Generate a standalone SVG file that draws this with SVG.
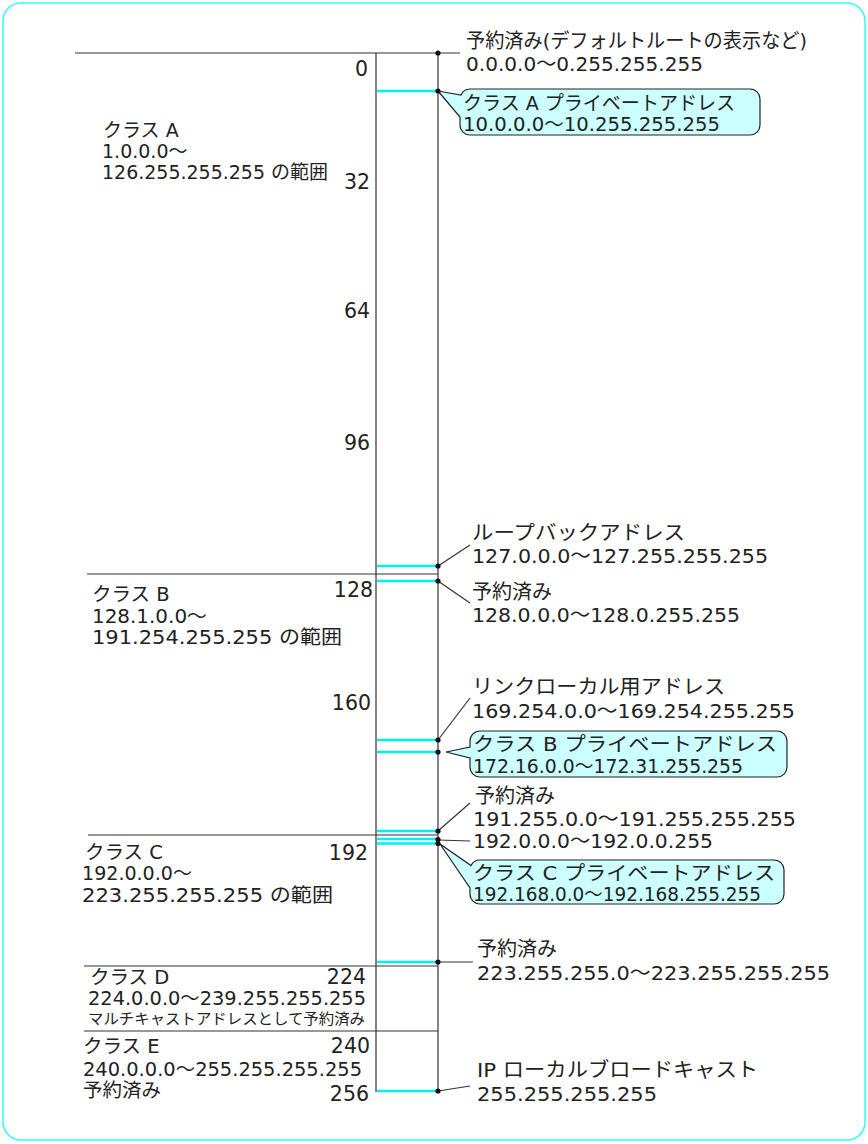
<svg xmlns="http://www.w3.org/2000/svg" width="868" height="1144" viewBox="0 0 868 1144">
<style>
  text { font-family: "DejaVu Sans", "Noto Sans CJK JP", sans-serif; fill: #222; }
  .r { font-size: 20px; }
  .c { font-size: 19.5px; }
  .l { font-size: 19.5px; }
  .la { font-size: 19px; }
  .de { font-size: 19.5px; }
  .sm { font-size: 15px; }
  .num { font-size: 20.5px; text-anchor: end; }
  .ln { stroke: #333; stroke-width: 1.2; fill: none; }
  .cy { stroke: #00f0f0; stroke-width: 2.6; fill: none; }
  .call { fill: #ccffff; stroke: #222; stroke-width: 1.2; }
  .dot { fill: #111; }
</style>

<rect id="frame" x="3" y="3" width="862" height="1137" rx="18" ry="18" fill="#fff" stroke="#3ff" stroke-width="1.6"/>

<g id="axis">
  <line class="ln" x1="75" y1="53" x2="460" y2="53"/>
  <line class="ln" x1="376" y1="53" x2="376" y2="1092"/>
  <line class="ln" x1="438" y1="53" x2="438" y2="1091"/>
  <line class="ln" x1="87" y1="574" x2="438" y2="574"/>
  <line class="ln" x1="88" y1="835" x2="438" y2="835"/>
  <line class="ln" x1="84" y1="966" x2="438" y2="966"/>
  <line class="ln" x1="84" y1="1031" x2="438" y2="1031"/>
</g>

<g id="ranges">
  <line class="cy" x1="377" y1="91" x2="438" y2="91"/>
  <line class="cy" x1="377" y1="566" x2="438" y2="566"/>
  <line class="cy" x1="377" y1="581" x2="438" y2="581"/>
  <line class="cy" x1="377" y1="740" x2="438" y2="740"/>
  <line class="cy" x1="377" y1="752" x2="438" y2="752"/>
  <line class="cy" x1="377" y1="831" x2="438" y2="831"/>
  <line class="cy" x1="377" y1="839" x2="438" y2="839"/>
  <line class="cy" x1="377" y1="843.5" x2="438" y2="843.5"/>
  <line class="cy" x1="377" y1="962" x2="438" y2="962"/>
  <line class="cy" x1="377" y1="1091" x2="438" y2="1091"/>
</g>

<g id="scale">
  <text class="num" x="368" y="76">0</text>
  <text class="num" x="370" y="189">32</text>
  <text class="num" x="370" y="318">64</text>
  <text class="num" x="370" y="450">96</text>
  <text class="num" x="373" y="597">128</text>
  <text class="num" x="371" y="710">160</text>
  <text class="num" x="368" y="860">192</text>
  <text class="num" x="366" y="984">224</text>
  <text class="num" x="370" y="1053">240</text>
  <text class="num" x="369" y="1101">256</text>
</g>

<g id="classA">
  <text class="la" x="103" y="137">クラス A</text>
  <text class="la" x="102" y="158">1.0.0.0〜</text>
  <text class="la" x="102" y="179" textLength="226" lengthAdjust="spacingAndGlyphs">126.255.255.255 の範囲</text>
</g>
<g id="classB">
  <text class="l" x="92" y="601">クラス B</text>
  <text class="l" x="92" y="622.5" textLength="115" lengthAdjust="spacingAndGlyphs">128.1.0.0〜</text>
  <text class="l" x="92" y="644" textLength="250" lengthAdjust="spacingAndGlyphs">191.254.255.255 の範囲</text>
</g>
<g id="classC">
  <text class="l" x="85" y="858.5">クラス C</text>
  <text class="l" x="82" y="880" textLength="110" lengthAdjust="spacingAndGlyphs">192.0.0.0〜</text>
  <text class="l" x="82" y="901.5" textLength="251" lengthAdjust="spacingAndGlyphs">223.255.255.255 の範囲</text>
</g>
<g id="classD">
  <text class="de" x="90" y="984">クラス D</text>
  <text class="de" x="88" y="1005" textLength="278" lengthAdjust="spacingAndGlyphs">224.0.0.0〜239.255.255.255</text>
  <text class="sm" x="88" y="1024" textLength="277" lengthAdjust="spacingAndGlyphs">マルチキャストアドレスとして予約済み</text>
</g>
<g id="classE">
  <text class="de" x="83" y="1053">クラス E</text>
  <text class="de" x="83" y="1076" textLength="279" lengthAdjust="spacingAndGlyphs">240.0.0.0〜255.255.255.255</text>
  <text class="de" x="83" y="1097">予約済み</text>
</g>

<g id="connectors">
  <line class="ln" x1="438" y1="566" x2="470" y2="545"/>
  <line class="ln" x1="438" y1="581" x2="470" y2="603"/>
  <line class="ln" x1="438" y1="740" x2="470" y2="698"/>
  <line class="ln" x1="438" y1="831" x2="470" y2="803"/>
  <line class="ln" x1="438" y1="840" x2="470" y2="841"/>
  <line class="ln" x1="438" y1="962" x2="473" y2="962"/>
  <line class="ln" x1="438" y1="1091" x2="470" y2="1086"/>
</g>

<g id="callout-a">
  <path class="call" d="M470,89 H750 A10,10 0 0 1 760,99 V125 A10,10 0 0 1 750,135 H470 A10,10 0 0 1 460,125 V117 L438,91 L461,95 A10,10 0 0 1 470,89 Z"/>
  <text class="c" x="463" y="110" textLength="272" lengthAdjust="spacingAndGlyphs">クラス A プライベートアドレス</text>
  <text class="c" x="463" y="131" textLength="257" lengthAdjust="spacingAndGlyphs">10.0.0.0〜10.255.255.255</text>
</g>
<g id="callout-b">
  <path class="call" d="M480,731 H777 A10,10 0 0 1 787,741 V767 A10,10 0 0 1 777,777 H480 A10,10 0 0 1 470,767 V758 L446,752 L470,747 V741 A10,10 0 0 1 480,731 Z"/>
  <text class="c" x="473" y="751" textLength="304" lengthAdjust="spacingAndGlyphs">クラス B プライベートアドレス</text>
  <text class="c" x="473" y="773" textLength="270" lengthAdjust="spacingAndGlyphs">172.16.0.0〜172.31.255.255</text>
</g>
<g id="callout-c">
  <path class="call" d="M480,860 H774 A10,10 0 0 1 784,870 V894 A10,10 0 0 1 774,904 H480 A10,10 0 0 1 470,894 V888 L440,844 L471,865.6 A10,10 0 0 1 480,860 Z"/>
  <text class="c" x="473" y="880" textLength="302" lengthAdjust="spacingAndGlyphs">クラス C プライベートアドレス</text>
  <text class="c" x="473" y="901" textLength="288" lengthAdjust="spacingAndGlyphs">192.168.0.0〜192.168.255.255</text>
</g>

<g id="note-default">
  <text class="r" x="466" y="48" textLength="341" lengthAdjust="spacingAndGlyphs">予約済み(デフォルトルートの表示など)</text>
  <text class="r" x="466" y="71" textLength="237" lengthAdjust="spacingAndGlyphs">0.0.0.0〜0.255.255.255</text>
</g>
<g id="note-loopback">
  <text class="r" x="472" y="540" textLength="213" lengthAdjust="spacingAndGlyphs">ループバックアドレス</text>
  <text class="r" x="472" y="563" textLength="296" lengthAdjust="spacingAndGlyphs">127.0.0.0〜127.255.255.255</text>
</g>
<g id="note-128">
  <text class="r" x="472" y="599">予約済み</text>
  <text class="r" x="472" y="621.5" textLength="268" lengthAdjust="spacingAndGlyphs">128.0.0.0〜128.0.255.255</text>
</g>
<g id="note-linklocal">
  <text class="r" x="472" y="694" textLength="253" lengthAdjust="spacingAndGlyphs">リンクローカル用アドレス</text>
  <text class="r" x="472" y="718" textLength="323" lengthAdjust="spacingAndGlyphs">169.254.0.0〜169.254.255.255</text>
</g>
<g id="note-191">
  <text class="r" x="475" y="803">予約済み</text>
  <text class="r" x="473" y="826" textLength="323" lengthAdjust="spacingAndGlyphs">191.255.0.0〜191.255.255.255</text>
</g>
<g id="note-192">
  <text class="r" x="473" y="848" textLength="240" lengthAdjust="spacingAndGlyphs">192.0.0.0〜192.0.0.255</text>
</g>
<g id="note-223">
  <text class="r" x="477" y="956">予約済み</text>
  <text class="r" x="477" y="980" textLength="353" lengthAdjust="spacingAndGlyphs">223.255.255.0〜223.255.255.255</text>
</g>
<g id="note-broadcast">
  <text class="r" x="477" y="1077" textLength="281" lengthAdjust="spacingAndGlyphs">IP ローカルブロードキャスト</text>
  <text class="r" x="477" y="1101" textLength="180" lengthAdjust="spacingAndGlyphs">255.255.255.255</text>
</g>

<g id="dots">
  <circle class="dot" cx="438" cy="53" r="2.6"/>
  <circle class="dot" cx="438" cy="91" r="2.6"/>
  <circle class="dot" cx="438" cy="566" r="2.6"/>
  <circle class="dot" cx="438" cy="581" r="2.6"/>
  <circle class="dot" cx="438" cy="740" r="2.6"/>
  <circle class="dot" cx="438" cy="752" r="2.6"/>
  <circle class="dot" cx="438" cy="831" r="2.6"/>
  <circle class="dot" cx="438" cy="839.5" r="2.6"/>
  <circle class="dot" cx="438" cy="843.5" r="2.6"/>
  <circle class="dot" cx="438" cy="962" r="2.6"/>
  <circle class="dot" cx="438" cy="1091" r="2.6"/>
</g>
</svg>
